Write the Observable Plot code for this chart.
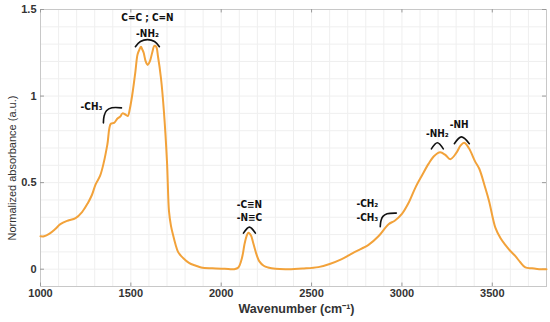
<!DOCTYPE html>
<html>
<head>
<meta charset="utf-8">
<script src="https://cdn.jsdelivr.net/npm/d3@7"></script>
<script src="https://cdn.jsdelivr.net/npm/@observablehq/plot@0.6"></script>
<style>
  html, body { margin: 0; padding: 0; background: #fff; }
  #chart svg { display: block; }
</style>
</head>
<body>
<div id="chart"></div>
<script>
// Spectrum (wavenumber cm^-1, normalized absorbance)
const wavenumber = [1000,1020,1050,1080,1110,1150,1194,1230,1261,1285,1305,1330,1351,1370,1389,1407,1426,1440,1454,1467,1483,1495,1511,1525,1537,1548,1556,1563,1571,1582,1593,1605,1618,1630,1640,1650,1667,1683,1700,1711,1722,1733,1748,1761,1775,1789,1810,1833,1860,1889,1950,2020,2072,2095,2111,2120,2128,2140,2150,2158,2167,2175,2183,2197,2211,2235,2259,2300,2372,2450,2537,2600,2667,2740,2815,2870,2926,2960,3000,3040,3074,3110,3148,3180,3211,3240,3267,3300,3325,3344,3370,3406,3428,3461,3483,3517,3545,3572,3600,3628,3655,3683,3720,3760,3800];
const absorbance = [0.19,0.19,0.205,0.23,0.26,0.28,0.295,0.33,0.38,0.43,0.49,0.54,0.62,0.72,0.84,0.845,0.87,0.88,0.90,0.895,0.885,0.93,1.03,1.14,1.24,1.27,1.285,1.27,1.25,1.20,1.18,1.20,1.25,1.29,1.285,1.23,1.10,0.91,0.62,0.335,0.25,0.20,0.14,0.10,0.08,0.065,0.045,0.03,0.02,0.01,0.005,0.002,0.0,0.01,0.05,0.09,0.14,0.19,0.21,0.205,0.19,0.16,0.13,0.08,0.045,0.02,0.01,0.002,0.0,0.004,0.012,0.03,0.058,0.10,0.14,0.19,0.26,0.28,0.32,0.39,0.47,0.54,0.61,0.655,0.675,0.66,0.635,0.67,0.715,0.73,0.70,0.62,0.58,0.47,0.39,0.24,0.18,0.14,0.105,0.075,0.04,0.01,0.005,0.0,0.0];

// Annotation labels
const labelText = ["-CH₃","C=C ; C=N","-NH₂","-C≡N","-N≡C","-CH₂","-CH₃","-NH₂","-NH"];
const labelX    = [1282,1592,1592,2156,2156,2809,2809,3196,3317];
const labelY    = [0.938,1.453,1.361,0.371,0.295,0.376,0.295,0.782,0.834];

// Annotation brackets (arcs), points in data coordinates
const arcId = ["a","a","a","a","a","b","b","b","b","b","c","c","c","d","d","d","d","d","e","e","e","f","f","f"];
const arcX  = [1348,1352,1365,1395,1448, 1525,1553,1592,1631,1658, 2123,2156,2189, 2880,2884,2895,2918,2969, 3163,3196,3229, 3290,3329,3373];
const arcY  = [0.845,0.885,0.915,0.932,0.932, 1.285,1.315,1.326,1.315,1.285, 0.208,0.243,0.208, 0.245,0.280,0.305,0.320,0.324, 0.695,0.730,0.695, 0.725,0.764,0.725];

const xTicks = [1000,1500,2000,2500,3000,3500];
const yTicks = [0,0.5,1,1.5];
const yTickLabels = ["0","0.5","1","1.5"];

const spectrum = wavenumber.map((w, i) => ({w, a: absorbance[i]}));
const labels = labelText.map((t, i) => ({t, x: labelX[i], y: labelY[i]}));
const arcs = arcId.map((id, i) => ({id, x: arcX[i], y: arcY[i]}));
const gridXv = d3.range(1000, 3801, 100);
const gridYv = d3.range(-0.1, 1.501, 0.1);

const annFont = "'DejaVu Sans Condensed', 'DejaVu Sans', sans-serif";
const tickStroke = "#9a9a9a";

const plot = Plot.plot({
  width: 550,
  height: 322,
  marginLeft: 40,
  marginRight: 4,
  marginTop: 9,
  marginBottom: 36,
  style: {fontFamily: "'Liberation Sans', Arial, sans-serif", background: "#fff"},
  x: {type: "linear", domain: [1000, 3800], label: null, axis: null},
  y: {type: "linear", domain: [-0.1, 1.5], label: null, axis: null},
  marks: [
    Plot.ruleX(gridXv, {x: d => d, stroke: "#efefef", strokeWidth: 1}),
    Plot.ruleY(gridYv, {y: d => d, stroke: "#efefef", strokeWidth: 1}),
    Plot.frame({stroke: "#c8c8c8", strokeWidth: 1}),
    // inward ticks on all four sides
    Plot.ruleX(xTicks, {x: d => d, y1: -0.1, y2: -0.08, stroke: tickStroke}),
    Plot.ruleX(xTicks, {x: d => d, y1: 1.48, y2: 1.5, stroke: tickStroke}),
    Plot.ruleY(yTicks, {y: d => d, x1: 1000, x2: 1022, stroke: tickStroke}),
    Plot.ruleY(yTicks, {y: d => d, x1: 3778, x2: 3800, stroke: tickStroke}),
    Plot.axisX({ticks: xTicks, tickSize: 0, tickPadding: 3, fontSize: 11, fontWeight: "bold", fill: "#333", label: null,
      tickFormat: d => String(d)}),
    Plot.axisY({ticks: yTicks, tickSize: 0, tickPadding: 4, fontSize: 11, fontWeight: "bold", fill: "#333", label: null,
      tickFormat: d => yTickLabels[yTicks.indexOf(d)]}),
    Plot.line(spectrum, {x: "w", y: "a", stroke: "#f2a23a", strokeWidth: 2, curve: "catmull-rom"}),
    Plot.line(arcs, {x: "x", y: "y", z: "id", stroke: "#111", strokeWidth: 1.6, curve: "catmull-rom"}),
    Plot.text(labels, {x: "x", y: "y", text: "t", fontSize: 10, fontWeight: "bold", fill: "#111",
      fontFamily: annFont, textAnchor: "middle"}),
    Plot.text(["Wavenumber (cm⁻¹)"], {frameAnchor: "bottom", dy: 26, dx: 3, fontSize: 12.5, fontWeight: "bold", fill: "#333", text: d => d}),
    Plot.text(["Normalized absorbance (a.u.)"], {frameAnchor: "left", textAnchor: "middle", dx: -28, dy: 20, rotate: -90, fontSize: 11, fill: "#333", text: d => d})
  ]
});
document.getElementById("chart").appendChild(plot);
</script>
</body>
</html>
